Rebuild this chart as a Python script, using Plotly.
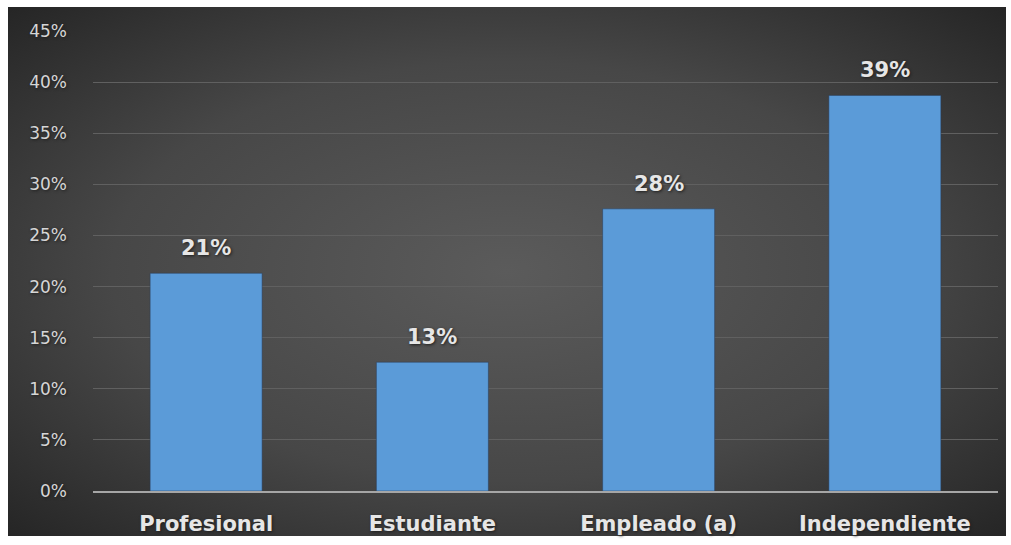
import base64
import plotly.graph_objects as go

# Occupation categories and their share of respondents (%)
categories = ["Profesional", "Estudiante", "Empleado (a)", "Independiente"]
shares = [21.3, 12.6, 27.6, 38.7]
y_ticks = [0, 5, 10, 15, 20, 25, 30, 35, 40, 45]
y_tick_labels = [f"{t}%" for t in y_ticks]

W, H = 1011, 545
M_L, M_R, M_T, M_B = 93, 13, 31, 54
PLOT_W = W - M_L - M_R
PLOT_H = H - M_T - M_B


def px_to_paper_x(px):
    return (px - M_L) / PLOT_W


def px_to_paper_y(py):
    return (H - M_B - py) / PLOT_H


# Dark radial-gradient panel behind the chart
svg = (
    '<svg xmlns="http://www.w3.org/2000/svg" width="1000" height="530" '
    'viewBox="0 0 100 100" preserveAspectRatio="none">'
    '<defs><radialGradient id="g" cx="50%" cy="50%" r="72%">'
    '<stop offset="0%" stop-color="#5b5b5b"/>'
    '<stop offset="55%" stop-color="#474747"/>'
    '<stop offset="100%" stop-color="#242424"/>'
    '</radialGradient></defs>'
    '<rect x="0" y="0" width="100" height="100" fill="url(#g)"/></svg>'
)
bg_src = "data:image/svg+xml;base64," + base64.b64encode(svg.encode()).decode()

FONT = "DejaVu Sans"
TXT_SHADOW = "1px 1px 3px #1e1e1e"

fig = go.Figure()
fig.add_trace(
    go.Bar(
        x=categories,
        y=shares,
        width=0.495,
        marker=dict(color="#5b9bd8", line=dict(color="rgba(40,60,90,0.5)", width=1)),
        hoverinfo="x+y",
    )
)

annotations = [
    dict(
        x=c,
        y=v,
        xref="x",
        yref="y",
        text=f"<b>{v:.0f}%</b>",
        showarrow=False,
        yanchor="bottom",
        yshift=11,
        font=dict(family=FONT, size=21, color="#e6e6e6", shadow=TXT_SHADOW),
    )
    for c, v in zip(categories, shares)
]

fig.update_layout(
    width=W,
    height=H,
    margin=dict(l=M_L, r=M_R, t=M_T, b=M_B, pad=0, autoexpand=False),
    paper_bgcolor="white",
    plot_bgcolor="rgba(0,0,0,0)",
    showlegend=False,
    bargap=0.5,
    annotations=annotations,
    images=[
        dict(
            source=bg_src,
            xref="paper",
            yref="paper",
            x=px_to_paper_x(8),
            y=px_to_paper_y(7),
            sizex=px_to_paper_x(1006) - px_to_paper_x(8),
            sizey=px_to_paper_y(7) - px_to_paper_y(536),
            xanchor="left",
            yanchor="top",
            sizing="stretch",
            layer="below",
        )
    ],
    xaxis=dict(
        automargin=False,
        showgrid=False,
        showline=True,
        linecolor="#a6a6a6",
        linewidth=2,
        ticks="",
        tickfont=dict(family=FONT, size=21, color="#e6e6e6", weight="bold", shadow=TXT_SHADOW),
        ticklabelstandoff=13,
    ),
    yaxis=dict(
        automargin=False,
        range=[0, 45],
        tickvals=y_ticks,
        ticktext=y_tick_labels,
        showgrid=True,
        gridcolor="#606060",
        gridwidth=1,
        zeroline=False,
        showline=False,
        ticks="",
        ticklabelstandoff=25,
        tickfont=dict(family=FONT, size=17, color="#d6d6d6", shadow=TXT_SHADOW),
    ),
)

fig.write_html("out.html")
